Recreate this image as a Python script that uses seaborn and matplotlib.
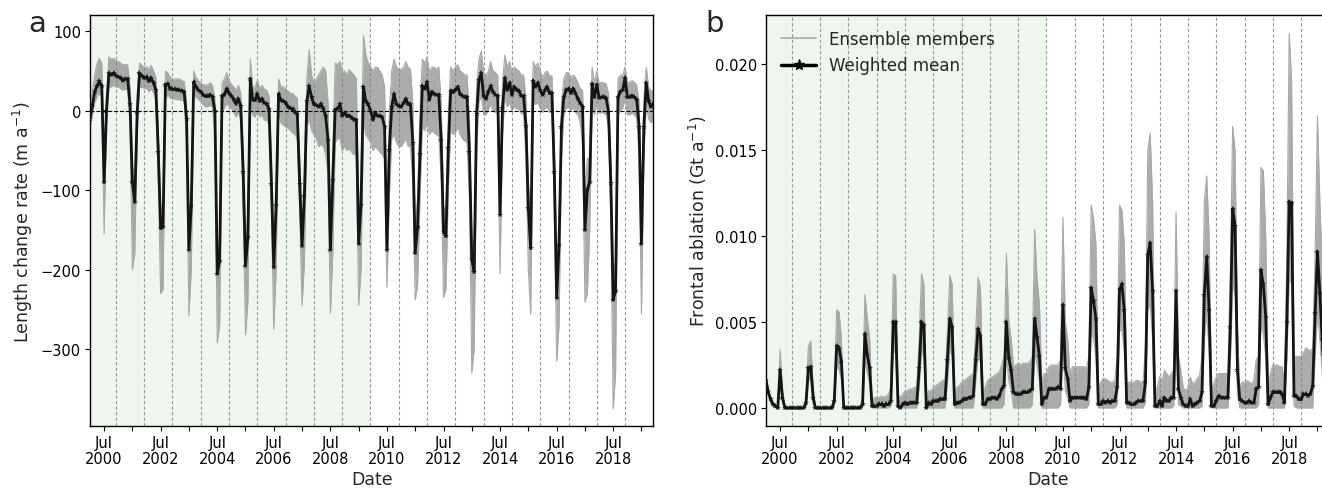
import pandas as pd
import matplotlib
matplotlib.use("Agg")
import matplotlib.pyplot as plt
import matplotlib.dates as mdates
from matplotlib.lines import Line2D
from matplotlib.ticker import FuncFormatter
import seaborn as sns

# Monthly time axis, Jan 2000 - Dec 2019
months = pd.date_range("2000-01-01", "2019-12-01", freq="MS")

# Panel a: length change rate (m a-1), weighted mean and ensemble envelope
length_mean = [
    -10, 6, 24, 31, 37, 31, -90, 0, 47, 45, 47, 44,
    43, 41, 38, 40, 40, 8, -90, -115, -3, 47, 44, 41,
    42, 37, 41, 35, 26, -52, -148, -146, 33, 34, 28, 27,
    27, 26, 26, 25, 24, -10, -175, -120, 36, 30, 26, 24,
    20, 18, 18, 20, 17, 0, -205, -189, 18, 20, 28, 22,
    19, 14, 9, 15, 6, -77, -195, -159, 40, 14, 13, 21,
    12, 15, 10, 9, 2, -92, -197, -118, 21, 13, 12, 10,
    5, 3, 2, -2, -4, -92, -170, -107, 12, 31, 17, 8,
    7, 5, 8, 3, -7, -37, -175, -87, 1, 2, 8, -6,
    -3, -7, -6, -9, -11, -11, -167, -118, 30, 12, 8, 1,
    -11, -3, -6, -7, -8, -20, -175, -49, 5, 21, 8, 6,
    5, 10, 15, 8, 8, -40, -179, -146, -55, 31, 28, 36,
    14, 24, 21, 20, 20, -37, -152, -158, -47, 25, 23, 26,
    30, 21, 19, 17, 17, -52, -187, -203, -4, 39, 47, 18,
    15, 24, 31, 24, 20, 19, -131, 3, 41, 26, 35, 20,
    30, 26, 25, 19, 18, -19, -122, -173, 38, 30, 35, 26,
    20, 26, 30, 22, 22, -77, -235, -169, -20, 17, 26, 28,
    22, 28, 22, 15, 10, 5, -150, -100, -89, 34, 17, 33,
    16, 17, 17, 16, -1, -91, -238, -227, 17, 24, 26, 41,
    17, 17, 19, 17, 14, -20, -167, -20, 35, 12, 5, 8,
]
length_hi = [
    0, 25, 45, 60, 66, 60, -60, 20, 68, 65, 66, 63,
    62, 60, 58, 58, 58, 30, -70, -85, 20, 60, 57, 55,
    55, 52, 57, 50, 42, -25, -120, -120, 50, 48, 42, 40,
    40, 40, 40, 38, 37, 10, -150, -95, 50, 42, 38, 35,
    33, 32, 33, 35, 32, 15, -180, -160, 35, 40, 48, 38,
    33, 30, 26, 32, 22, -50, -170, -130, 65, 30, 30, 38,
    28, 32, 27, 26, 18, -65, -170, -95, 40, 30, 30, 28,
    25, 22, 22, 18, 16, -65, -140, -80, 40, 77, 45, 35,
    40, 45, 50, 55, 50, 10, -140, -50, 60, 58, 62, 48,
    50, 45, 52, 48, 45, 40, -130, -85, 95, 70, 60, 55,
    50, 55, 55, 50, 45, 30, -140, 0, 50, 65, 55, 52,
    52, 55, 62, 55, 52, 10, -150, -110, 0, 65, 60, 68,
    48, 55, 55, 52, 55, 10, -120, -125, -5, 55, 50, 55,
    58, 50, 48, 45, 45, -15, -160, -170, 30, 65, 75, 48,
    45, 50, 62, 50, 48, 45, -100, 35, 70, 55, 62, 48,
    55, 52, 50, 45, 45, 15, -90, -140, 62, 55, 60, 50,
    42, 48, 50, 44, 44, -50, -200, -140, 10, 40, 48, 48,
    42, 45, 42, 35, 28, 25, -110, -60, -60, 55, 35, 50,
    35, 36, 35, 34, 22, -60, -200, -190, 40, 45, 45, 55,
    36, 36, 38, 36, 32, 10, -130, 15, 55, 30, 25, 25,
]
length_lo = [
    -20, -5, 10, 18, 22, 18, -155, -15, 30, 30, 32, 30,
    30, 28, 26, 27, 27, -15, -200, -180, -25, 30, 30, 28,
    28, 24, 28, 22, 14, -90, -230, -225, 15, 20, 16, 15,
    15, 14, 14, 13, 12, -40, -258, -200, 20, 17, 14, 12,
    8, 5, 5, 7, 4, -30, -292, -270, 0, 3, 10, 5,
    3, -2, -8, -2, -12, -120, -282, -240, 20, -5, -8, 0,
    -8, -5, -12, -12, -18, -130, -275, -200, 0, -15, -18, -20,
    -22, -25, -28, -30, -35, -130, -245, -190, -20, -10, -25, -30,
    -35, -45, -42, -45, -55, -80, -255, -180, -40, -35, -35, -50,
    -45, -50, -48, -52, -55, -55, -245, -200, -15, -30, -35, -40,
    -50, -45, -48, -52, -55, -60, -222, -110, -35, -30, -40, -45,
    -45, -40, -35, -45, -45, -90, -238, -220, -110, -20, -25, -15,
    -30, -25, -28, -30, -32, -85, -235, -225, -100, -25, -30, -28,
    -20, -30, -35, -38, -40, -110, -330, -300, -50, 10, 20, -5,
    -5, 2, 8, 0, -2, -3, -205, -30, 15, 5, 10, 0,
    5, 2, 2, -3, -5, -60, -200, -256, 15, 8, 10, 3,
    -2, 3, 5, -2, -2, -130, -315, -270, -60, -5, 3, 5,
    0, 5, -2, -5, -15, -40, -241, -230, -150, 10, -5, 10,
    -3, -2, -3, -5, -20, -140, -375, -330, -5, 0, 3, 15,
    -5, -5, -3, -5, -10, -60, -255, -60, 10, -10, -15, -12,
]

# Panel b: frontal ablation (Gt a-1), weighted mean and ensemble envelope
ablation_mean = [
    0.0016, 0.0009, 0.0005, 0.0002, 0.0001, 0.0000, 0.0022, 0.0006, 0.0000, 0.0000, 0.0000, 0.0000,
    0.0000, 0.0000, 0.0000, 0.0000, 0.0000, 0.0003, 0.0023, 0.0024, 0.0006, 0.0000, 0.0000, 0.0000,
    0.0000, 0.0000, 0.0000, 0.0000, 0.0000, 0.0004, 0.0036, 0.0035, 0.0027, 0.0000, 0.0000, 0.0000,
    0.0000, 0.0000, 0.0000, 0.0000, 0.0000, 0.0002, 0.0043, 0.0031, 0.0023, 0.0001, 0.0001, 0.0001,
    0.0002, 0.0002, 0.0001, 0.0002, 0.0002, 0.0004, 0.0050, 0.0050, 0.0001, 0.0000, 0.0002, 0.0003,
    0.0002, 0.0003, 0.0003, 0.0003, 0.0003, 0.0023, 0.0050, 0.0048, 0.0000, 0.0003, 0.0002, 0.0004,
    0.0004, 0.0004, 0.0005, 0.0005, 0.0005, 0.0028, 0.0052, 0.0047, 0.0002, 0.0003, 0.0003, 0.0004,
    0.0005, 0.0005, 0.0006, 0.0006, 0.0007, 0.0028, 0.0046, 0.0042, 0.0002, 0.0002, 0.0005, 0.0005,
    0.0006, 0.0006, 0.0005, 0.0007, 0.0011, 0.0013, 0.0050, 0.0029, 0.0022, 0.0009, 0.0008, 0.0008,
    0.0008, 0.0009, 0.0009, 0.0009, 0.0010, 0.0011, 0.0052, 0.0041, 0.0030, 0.0002, 0.0006, 0.0006,
    0.0011, 0.0011, 0.0011, 0.0011, 0.0012, 0.0011, 0.0060, 0.0023, 0.0017, 0.0004, 0.0006, 0.0006,
    0.0006, 0.0006, 0.0006, 0.0006, 0.0005, 0.0012, 0.0070, 0.0062, 0.0052, 0.0002, 0.0002, 0.0004,
    0.0003, 0.0004, 0.0003, 0.0004, 0.0004, 0.0012, 0.0069, 0.0072, 0.0057, 0.0003, 0.0003, 0.0002,
    0.0002, 0.0003, 0.0004, 0.0004, 0.0004, 0.0015, 0.0089, 0.0096, 0.0068, 0.0001, 0.0001, 0.0004,
    0.0001, 0.0006, 0.0004, 0.0004, 0.0006, 0.0006, 0.0068, 0.0011, 0.0006, 0.0002, 0.0001, 0.0001,
    0.0005, 0.0001, 0.0002, 0.0003, 0.0004, 0.0009, 0.0066, 0.0088, 0.0057, 0.0001, 0.0001, 0.0004,
    0.0007, 0.0006, 0.0006, 0.0006, 0.0006, 0.0047, 0.0116, 0.0106, 0.0022, 0.0005, 0.0004, 0.0003,
    0.0003, 0.0004, 0.0003, 0.0003, 0.0011, 0.0012, 0.0080, 0.0072, 0.0053, 0.0002, 0.0006, 0.0009,
    0.0009, 0.0009, 0.0009, 0.0008, 0.0003, 0.0050, 0.0120, 0.0119, 0.0007, 0.0007, 0.0005, 0.0005,
    0.0008, 0.0008, 0.0007, 0.0008, 0.0013, 0.0055, 0.0091, 0.0067, 0.0040, 0.0010, 0.0008, 0.0008,
]
ablation_hi = [
    0.0018, 0.0011, 0.0006, 0.0003, 0.0001, 0.0001, 0.0034, 0.0010, 0.0000, 0.0000, 0.0000, 0.0000,
    0.0000, 0.0000, 0.0000, 0.0000, 0.0000, 0.0006, 0.0036, 0.0039, 0.0012, 0.0000, 0.0000, 0.0000,
    0.0000, 0.0000, 0.0000, 0.0000, 0.0000, 0.0008, 0.0057, 0.0056, 0.0040, 0.0001, 0.0001, 0.0001,
    0.0001, 0.0001, 0.0001, 0.0001, 0.0001, 0.0006, 0.0066, 0.0052, 0.0040, 0.0005, 0.0006, 0.0006,
    0.0006, 0.0007, 0.0006, 0.0007, 0.0008, 0.0012, 0.0078, 0.0077, 0.0008, 0.0006, 0.0008, 0.0010,
    0.0010, 0.0011, 0.0011, 0.0012, 0.0012, 0.0040, 0.0078, 0.0072, 0.0005, 0.0010, 0.0010, 0.0012,
    0.0013, 0.0014, 0.0015, 0.0016, 0.0016, 0.0045, 0.0077, 0.0072, 0.0008, 0.0012, 0.0013, 0.0015,
    0.0016, 0.0017, 0.0018, 0.0019, 0.0020, 0.0045, 0.0076, 0.0070, 0.0010, 0.0012, 0.0016, 0.0017,
    0.0018, 0.0019, 0.0020, 0.0021, 0.0025, 0.0030, 0.0090, 0.0050, 0.0040, 0.0024, 0.0025, 0.0026,
    0.0025, 0.0026, 0.0026, 0.0026, 0.0027, 0.0030, 0.0104, 0.0075, 0.0060, 0.0015, 0.0020, 0.0020,
    0.0024, 0.0025, 0.0025, 0.0025, 0.0025, 0.0028, 0.0111, 0.0050, 0.0040, 0.0020, 0.0024, 0.0024,
    0.0024, 0.0024, 0.0024, 0.0024, 0.0023, 0.0030, 0.0118, 0.0110, 0.0095, 0.0012, 0.0015, 0.0017,
    0.0017, 0.0016, 0.0015, 0.0015, 0.0016, 0.0030, 0.0118, 0.0115, 0.0095, 0.0014, 0.0015, 0.0015,
    0.0015, 0.0016, 0.0016, 0.0015, 0.0015, 0.0035, 0.0150, 0.0160, 0.0120, 0.0010, 0.0012, 0.0018,
    0.0016, 0.0022, 0.0020, 0.0018, 0.0020, 0.0022, 0.0114, 0.0030, 0.0022, 0.0012, 0.0010, 0.0012,
    0.0018, 0.0014, 0.0015, 0.0017, 0.0019, 0.0030, 0.0120, 0.0135, 0.0100, 0.0010, 0.0014, 0.0018,
    0.0020, 0.0020, 0.0020, 0.0020, 0.0020, 0.0080, 0.0164, 0.0150, 0.0045, 0.0012, 0.0015, 0.0015,
    0.0016, 0.0015, 0.0014, 0.0016, 0.0028, 0.0030, 0.0140, 0.0138, 0.0100, 0.0014, 0.0020, 0.0025,
    0.0025, 0.0025, 0.0024, 0.0024, 0.0015, 0.0090, 0.0218, 0.0190, 0.0030, 0.0030, 0.0030, 0.0030,
    0.0032, 0.0035, 0.0034, 0.0033, 0.0035, 0.0090, 0.0170, 0.0120, 0.0080, 0.0035, 0.0032, 0.0030,
]
ablation_lo = [
    0.0012, 0.0007, 0.0003, 0.0001, 0, 0, 0.0014, 0.0003, 0, 0, 0, 0,
    0, 0, 0, 0, 0, 0.0001, 0.0016, 0.0016, 0.0002, 0, 0, 0,
    0, 0, 0, 0, 0, 0.0001, 0.0024, 0.0022, 0.0017, 0, 0, 0,
    0, 0, 0, 0, 0, 0, 0.0028, 0.0020, 0.0014, 0, 0, 0,
    0, 0, 0, 0, 0, 0.0001, 0.0033, 0.0032, 0, 0, 0, 0,
    0, 0, 0, 0, 0, 0.0012, 0.0033, 0.0030, 0, 0, 0, 0,
    0, 0, 0, 0, 0, 0.0015, 0.0034, 0.0030, 0, 0, 0, 0,
    0, 0, 0, 0, 0, 0.0015, 0.0030, 0.0027, 0, 0, 0, 0,
    0, 0, 0, 0, 0, 0.0002, 0.0032, 0.0016, 0.0010, 0, 0, 0,
    0, 0, 0, 0, 0, 0.0002, 0.0033, 0.0025, 0.0016, 0, 0, 0,
    0, 0, 0, 0, 0, 0.0002, 0.0038, 0.0010, 0.0006, 0, 0, 0,
    0, 0, 0, 0, 0, 0.0002, 0.0045, 0.0040, 0.0030, 0, 0, 0,
    0, 0, 0, 0, 0, 0.0002, 0.0045, 0.0045, 0.0033, 0, 0, 0,
    0, 0, 0, 0, 0, 0.0003, 0.0057, 0.0060, 0.0040, 0, 0, 0,
    0, 0, 0, 0, 0, 0.0001, 0.0042, 0.0002, 0.0001, 0, 0, 0,
    0, 0, 0, 0, 0, 0.0001, 0.0040, 0.0055, 0.0033, 0, 0, 0,
    0, 0, 0, 0, 0, 0.0025, 0.0072, 0.0065, 0.0008, 0, 0, 0,
    0, 0, 0, 0, 0, 0.0002, 0.0048, 0.0043, 0.0030, 0, 0, 0,
    0, 0, 0, 0, 0, 0.0028, 0.0075, 0.0072, 0.0001, 0, 0, 0,
    0, 0, 0, 0, 0, 0.0030, 0.0055, 0.0040, 0.0020, 0, 0, 0,
]

# Dashed year separators (1 December) and the shaded early period
separators = pd.to_datetime(["%d-12-01" % y for y in range(2000, 2019)])
shade_start, shade_end = pd.Timestamp("2000-01-01"), pd.Timestamp("2009-12-01")

sns.set_style("ticks")
plt.rcParams["font.family"] = ["DejaVu Sans"]
plt.rcParams["axes.edgecolor"] = "black"
plt.rcParams["axes.linewidth"] = 1.0
plt.rcParams["xtick.color"] = "black"
plt.rcParams["ytick.color"] = "black"

W, H = 1322, 489
fig = plt.figure(figsize=(W / 100, H / 100), dpi=100)
ax_a = fig.add_axes([90 / W, 1 - 427.3 / H, 563.3 / W, 411.3 / H])
ax_b = fig.add_axes([766 / W, 1 - 427.3 / H, 563.3 / W, 411.3 / H])

ens_color = "#808080"


def date_label(x, pos):
    d = mdates.num2date(x)
    return "Jul\n%d" % d.year if d.year % 2 == 0 else ""


def draw_panel(ax, mean, lo, hi):
    ax.axvspan(shade_start, shade_end, color="#eff6ef", lw=0, zorder=0)
    for d in separators:
        ax.axvline(d, color="#999999", ls=(0, (3, 2)), lw=0.8, zorder=1)
    ax.fill_between(months, lo, hi, color=ens_color, alpha=0.65, lw=0, zorder=2)
    sns.lineplot(x=months, y=hi, ax=ax, color="#a8a8a8", lw=0.8, zorder=2)
    sns.lineplot(x=months, y=lo, ax=ax, color="#a8a8a8", lw=0.8, zorder=2)
    sns.lineplot(x=months, y=mean, ax=ax, color="#151515", lw=2, marker="*",
                 markersize=4, markeredgewidth=0, zorder=4)
    ax.set_xlim(months[0], months[-1])
    ax.xaxis.set_major_locator(mdates.MonthLocator(bymonth=7))
    ax.xaxis.set_major_formatter(FuncFormatter(date_label))
    ax.tick_params(labelsize=10.5, pad=3)
    for lbl in ax.get_xticklabels():
        lbl.set_linespacing(1.05)
    ax.set_xlabel("Date", fontsize=12.5, labelpad=3)


draw_panel(ax_a, length_mean, length_lo, length_hi)
ax_a.axhline(0, color="black", ls="--", lw=0.8, zorder=3)
ax_a.set_ylim(-397, 120.5)
ax_a.set_yticks([100, 0, -100, -200, -300])
ax_a.set_ylabel("Length change rate (m a$^{-1}$)", fontsize=12.5)

draw_panel(ax_b, ablation_mean, ablation_lo, ablation_hi)
ax_b.set_ylim(-0.00107, 0.02287)
ax_b.set_yticks([0.0, 0.005, 0.010, 0.015, 0.020])
ax_b.set_ylabel("Frontal ablation (Gt a$^{-1}$)", fontsize=12.5)

handles = [Line2D([], [], color="#a8a8a8", lw=1.2),
           Line2D([], [], color="black", lw=2.5, marker="*", markersize=8)]
ax_b.legend(handles, ["Ensemble members", "Weighted mean"], loc="upper left",
            frameon=False, fontsize=12, handlelength=2.1, handletextpad=0.8)

fig.text(28 / W, 1 - 32 / H, "a", fontsize=21, va="baseline")
fig.text(705 / W, 1 - 32 / H, "b", fontsize=21, va="baseline")

fig.savefig("out.png", dpi=100)
